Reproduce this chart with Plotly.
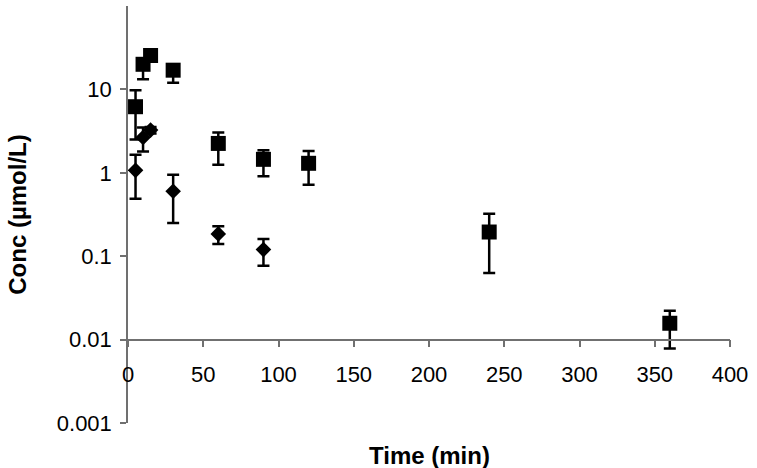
import plotly.graph_objects as go

# Series 1 (squares)
sq_time = [5, 10, 15, 30, 60, 90, 120, 240, 360]
sq_conc = [6.2, 20, 25.5, 17, 2.25, 1.45, 1.30, 0.195, 0.0157]
sq_err_plus = [3.6, 2, 3, 2.5, 0.8, 0.42, 0.52, 0.127, 0.0065]
sq_err_minus = [3.7, 6.8, 3, 5, 1.0, 0.54, 0.58, 0.132, 0.0079]

# Series 2 (diamonds)
dm_time = [5, 10, 15, 30, 60, 90]
dm_conc = [1.07, 2.65, 3.25, 0.60, 0.185, 0.12]
dm_err_plus = [0.58, 0.85, 0.3, 0.35, 0.044, 0.041]
dm_err_minus = [0.58, 0.85, 0.3, 0.35, 0.045, 0.043]

x_ticks = [0, 50, 100, 150, 200, 250, 300, 350, 400]
y_ticks = [0.001, 0.01, 0.1, 1, 10]
y_ticktext = ["0.001", "0.01", "0.1", "1", "10"]

axis_col = "#707070"
font_family = "Liberation Sans, Arial, sans-serif"

fig = go.Figure()
fig.add_trace(go.Scatter(
    x=sq_time, y=sq_conc, mode="markers",
    marker=dict(symbol="square", size=15, color="black"),
    error_y=dict(type="data", symmetric=False, array=sq_err_plus, arrayminus=sq_err_minus,
                 color="black", thickness=2.5, width=6),
))
fig.add_trace(go.Scatter(
    x=dm_time, y=dm_conc, mode="markers",
    marker=dict(symbol="diamond", size=12, color="black"),
    error_y=dict(type="data", symmetric=False, array=dm_err_plus, arrayminus=dm_err_minus,
                 color="black", thickness=2.5, width=6),
))

fig.update_layout(
    width=757, height=468,
    margin=dict(l=128, r=27, t=6, b=45),
    showlegend=False,
    plot_bgcolor="white", paper_bgcolor="white",
    font=dict(family=font_family, size=22, color="black"),
    xaxis=dict(
        range=[0, 400], tickvals=x_ticks, ticks="outside", ticklen=7, tickwidth=1.5,
        tickcolor=axis_col, showline=True, linecolor=axis_col, linewidth=1.5,
        showgrid=False, zeroline=False, anchor="free", position=0.2,
        tickfont=dict(size=22, color="black"), ticklabelstandoff=8,
    ),
    yaxis=dict(
        type="log", range=[-3, 2], tickvals=y_ticks, ticktext=y_ticktext,
        ticks="outside", ticklen=6, tickwidth=1.5, tickcolor=axis_col,
        showline=True, linecolor=axis_col, linewidth=1.5,
        showgrid=False, zeroline=False,
        tickfont=dict(size=22, color="black"), ticklabelstandoff=4,
    ),
    annotations=[
        dict(text="<b>Conc (µmol/L)</b>", xref="paper", yref="paper",
             x=-0.184, y=0.5, xanchor="center", yanchor="middle", textangle=-90,
             showarrow=False, font=dict(size=24, color="black", family=font_family)),
        dict(text="<b>Time (min)</b>", xref="paper", yref="paper",
             x=0.5, y=-0.077, xanchor="center", yanchor="middle",
             showarrow=False, font=dict(size=24, color="black", family=font_family)),
    ],
)

fig.write_html("out.html", config={"displayModeBar": False},
               post_script="document.body.style.margin='0';")
